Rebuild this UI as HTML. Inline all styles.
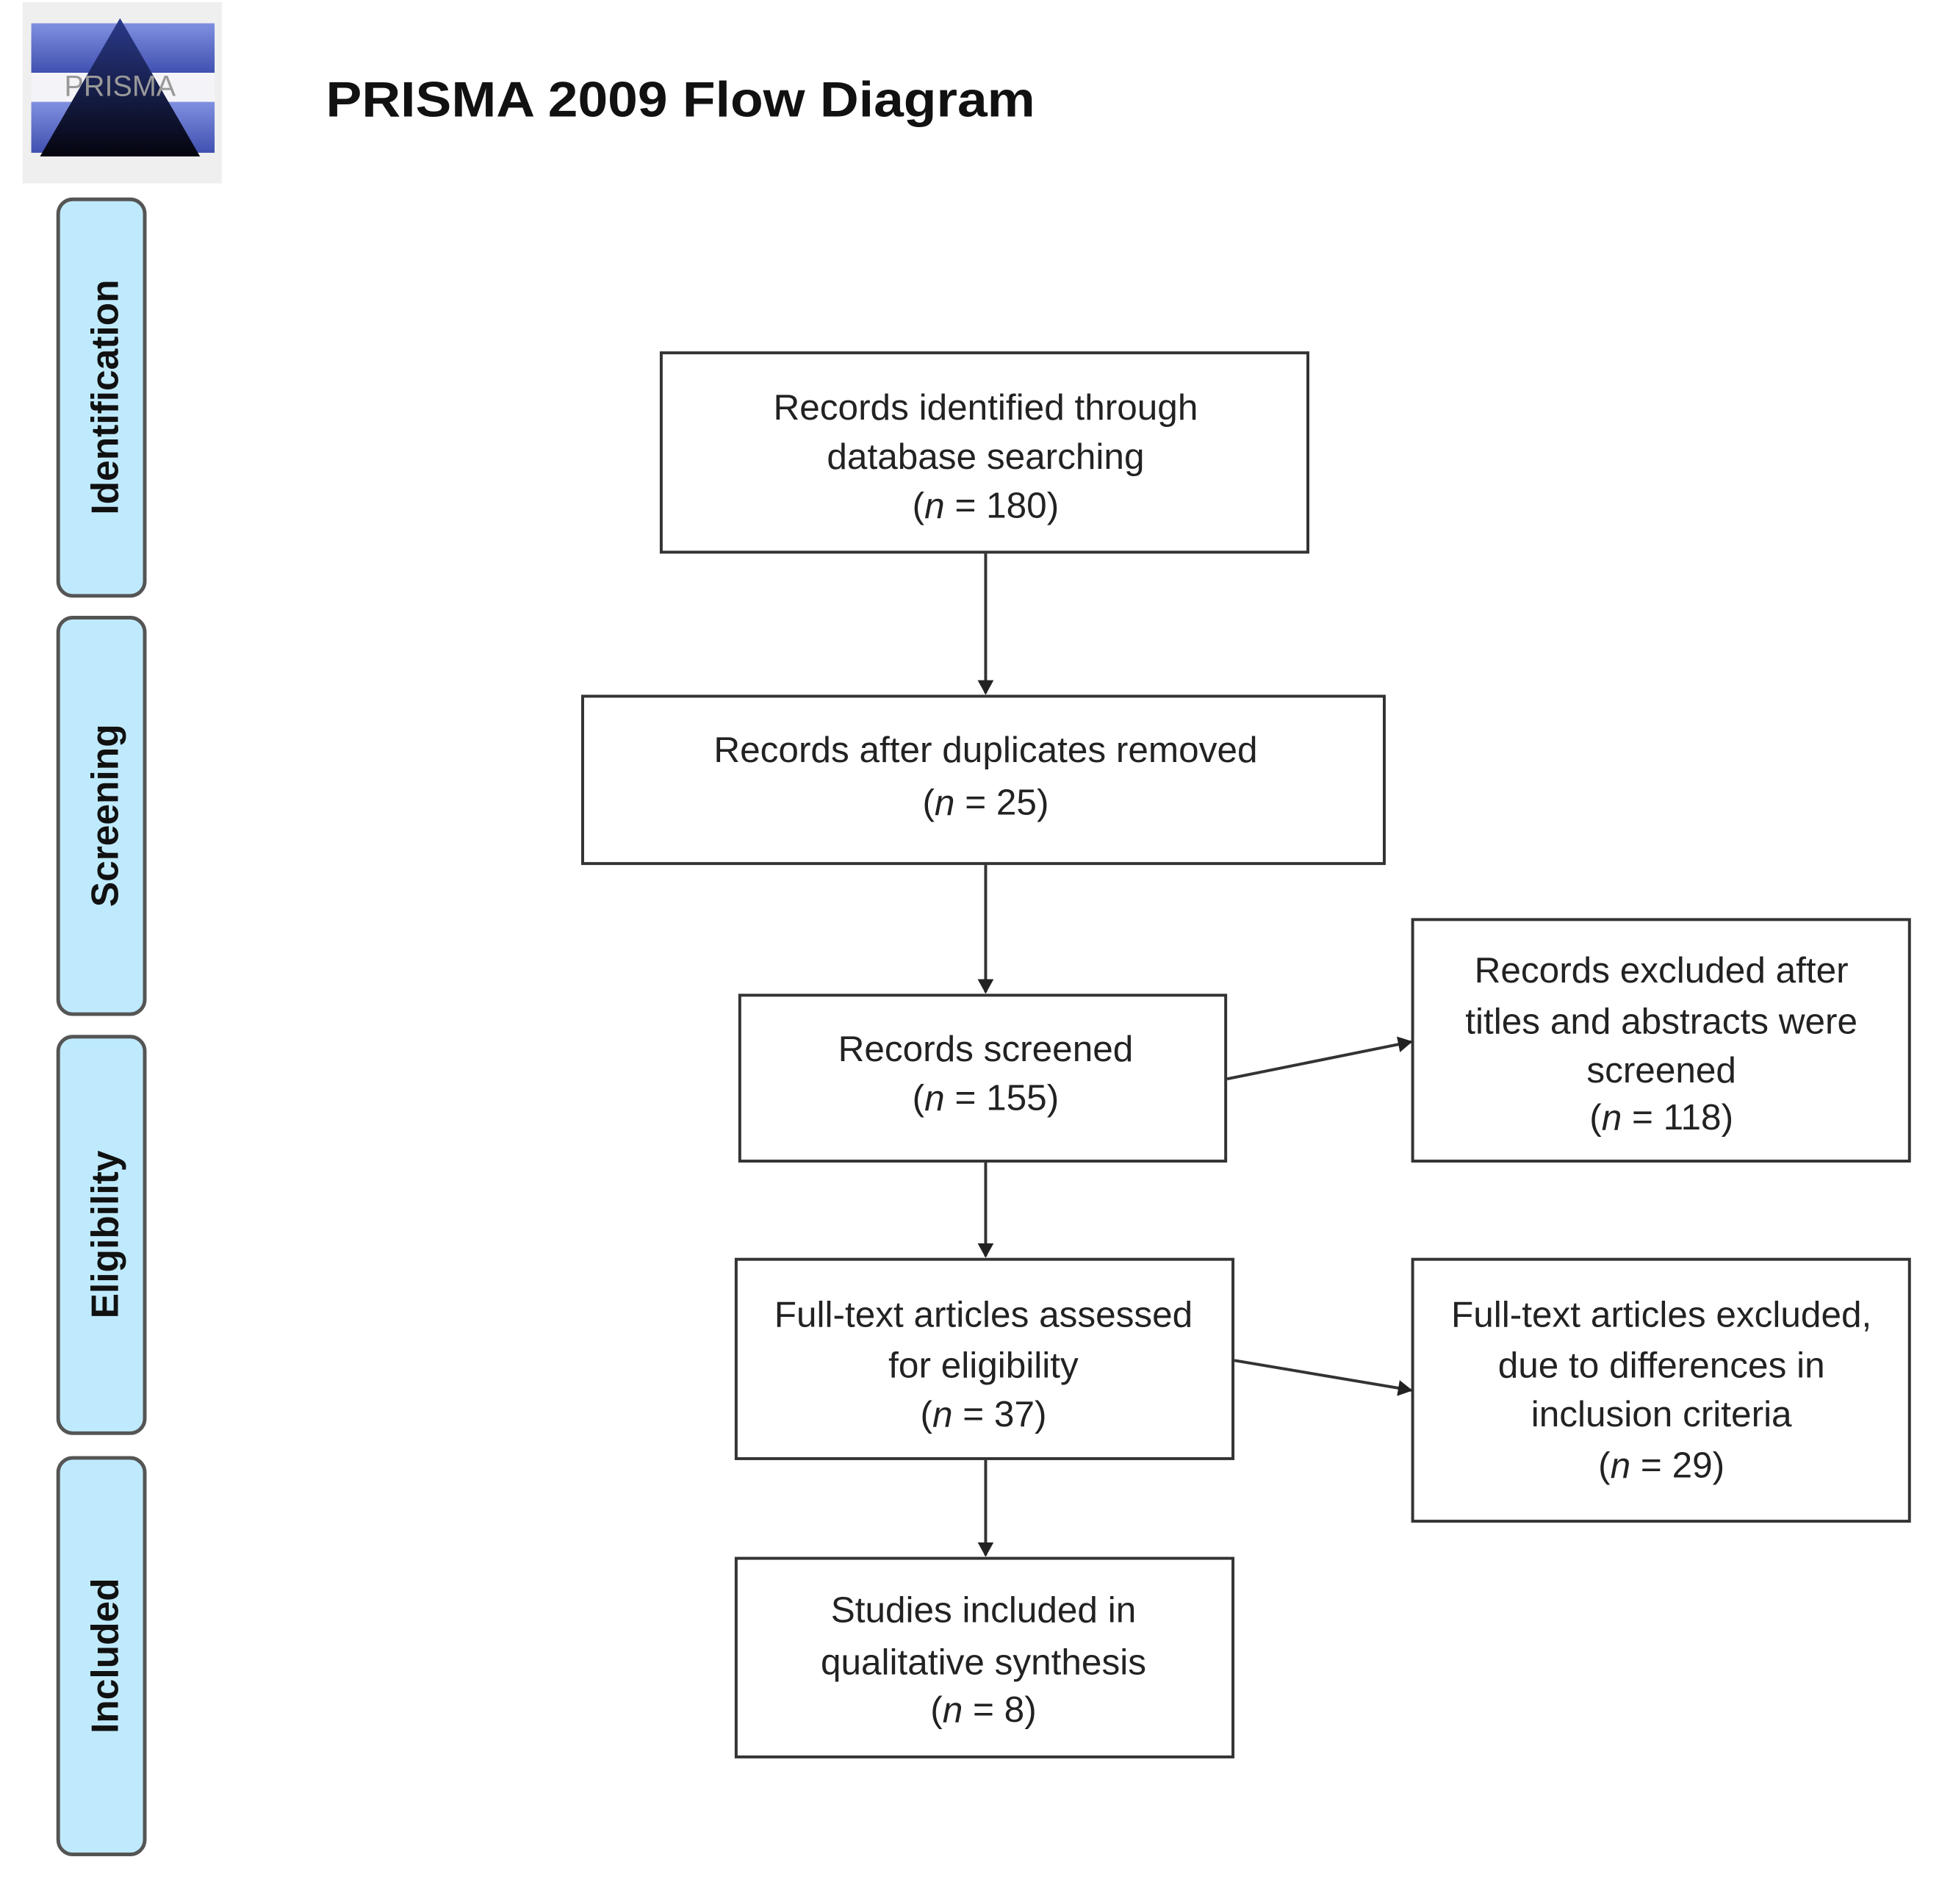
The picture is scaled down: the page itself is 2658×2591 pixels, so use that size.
<!DOCTYPE html>
<html><head><meta charset="utf-8"><style>
html,body{margin:0;padding:0;background:#fff;}
svg{display:block;}
text{font-family:"Liberation Sans",sans-serif;}
</style></head><body>
<svg width="2658" height="2591" viewBox="0 0 2658 2591" xmlns="http://www.w3.org/2000/svg">
<defs>
<linearGradient id="tri" x1="0" y1="0" x2="0" y2="1"><stop offset="0" stop-color="#2a3a8a"/><stop offset="1" stop-color="#05050f"/></linearGradient>
<linearGradient id="band" x1="0" y1="0" x2="0" y2="1"><stop offset="0" stop-color="#8090e0"/><stop offset="1" stop-color="#4050b0"/></linearGradient>
<marker id="ah" markerWidth="20" markerHeight="22" refX="18" refY="11" orient="auto" markerUnits="userSpaceOnUse" viewBox="0 0 20 22"><path d="M0,0 L20,11 L0,22 z" fill="#222"/></marker>
</defs>
<g transform="scale(0.99)">
<rect x="31" y="3" width="274" height="249" fill="#efefef"/>
<rect x="43" y="32" width="252" height="68" fill="url(#band)"/>
<rect x="43" y="100" width="252" height="40" fill="#f4f4f8"/>
<rect x="43" y="140" width="252" height="70" fill="url(#band)"/>
<polygon points="165,25 55,215 275,215" fill="url(#tri)"/>
<text x="165" y="132" font-size="40" fill="#999" text-anchor="middle" font-family="Liberation Serif,serif">PRISMA</text>
<text x="448" y="160" font-size="68" font-weight="bold" fill="#111" textLength="975" lengthAdjust="spacingAndGlyphs">PRISMA 2009 Flow Diagram</text>
<g fill="#bfeafd" stroke="#555" stroke-width="5">
<rect x="80" y="274" width="119" height="545" rx="20"/>
<rect x="80" y="849" width="119" height="545" rx="20"/>
<rect x="80" y="1425" width="119" height="545" rx="20"/>
<rect x="80" y="2004" width="119" height="545" rx="20"/>
</g>
<g font-size="52" font-weight="bold" fill="#111" text-anchor="middle">
<text transform="translate(162,546) rotate(-90)">Identification</text>
<text transform="translate(162,1121) rotate(-90)">Screening</text>
<text transform="translate(162,1697) rotate(-90)">Eligibility</text>
<text transform="translate(162,2276) rotate(-90)">Included</text>
</g>
<g fill="#fff" stroke="#333" stroke-width="4">
<rect x="909" y="485" width="889" height="274"/>
<rect x="801" y="957" width="1102" height="230"/>
<rect x="1017" y="1368" width="668" height="228"/>
<rect x="1012" y="1731" width="683" height="274"/>
<rect x="1012" y="2142" width="683" height="273"/>
<rect x="1942" y="1264" width="683" height="332"/>
<rect x="1942" y="1731" width="683" height="360"/>
</g>
<g stroke="#333" stroke-width="4" fill="none" marker-end="url(#ah)">
<line x1="1355" y1="761" x2="1355" y2="953"/>
<line x1="1355" y1="1189" x2="1355" y2="1364"/>
<line x1="1355" y1="1598" x2="1355" y2="1727"/>
<line x1="1355" y1="2007" x2="1355" y2="2138"/>
<line x1="1687" y1="1483" x2="1940" y2="1432"/>
<line x1="1697" y1="1870" x2="1940" y2="1911"/>
</g>
<g font-size="50" fill="#222" text-anchor="middle" dominant-baseline="central">
<text x="1355" y="560">Records identified through</text>
<text x="1355" y="628">database searching</text>
<text x="1355" y="695">(<tspan font-style="italic">n</tspan> = 180)</text>
<text x="1355" y="1031">Records after duplicates removed</text>
<text x="1355" y="1103">(<tspan font-style="italic">n</tspan> =   25)</text>
<text x="1355" y="1442">Records screened</text>
<text x="1355" y="1509">(<tspan font-style="italic">n</tspan> = 155)</text>
<text x="2284" y="1334">Records excluded after</text>
<text x="2284" y="1404">titles and abstracts were</text>
<text x="2284" y="1471">screened</text>
<text x="2284" y="1536">(<tspan font-style="italic">n</tspan> = 118)</text>
<text x="1352" y="1807">Full-text articles assessed</text>
<text x="1352" y="1877">for eligibility</text>
<text x="1352" y="1944">(<tspan font-style="italic">n</tspan> = 37)</text>
<text x="2284" y="1807">Full-text articles excluded,</text>
<text x="2284" y="1877">due to differences in</text>
<text x="2284" y="1944">inclusion criteria</text>
<text x="2284" y="2014">(<tspan font-style="italic">n</tspan> = 29)</text>
<text x="1352" y="2213">Studies included in</text>
<text x="1352" y="2285">qualitative synthesis</text>
<text x="1352" y="2350">(<tspan font-style="italic">n</tspan> = 8)</text>
</g>
</g>
</svg>
</body></html>
